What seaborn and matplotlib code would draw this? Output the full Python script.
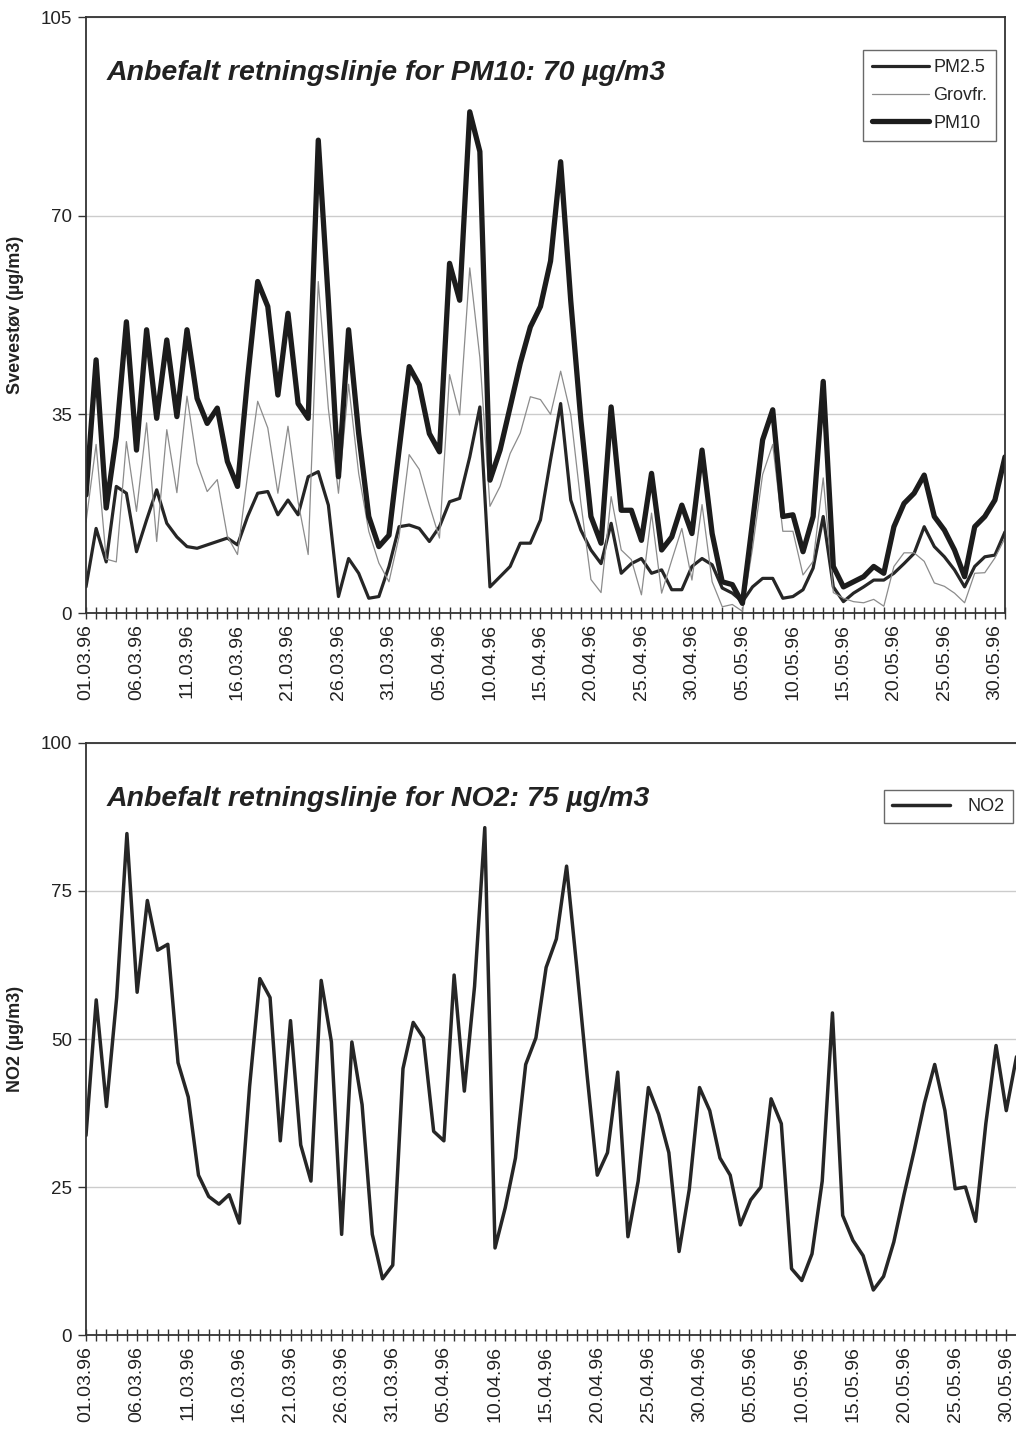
import matplotlib
matplotlib.use("Agg")
import matplotlib.pyplot as plt
import seaborn as sns
import numpy as np
import pandas as pd
from matplotlib.ticker import FixedLocator, MultipleLocator

# ---------------- data ----------------
tick_labels = ["01.03.96", "06.03.96", "11.03.96", "16.03.96", "21.03.96", "26.03.96",
               "31.03.96", "05.04.96", "10.04.96", "15.04.96", "20.04.96", "25.04.96",
               "30.04.96", "05.05.96", "10.05.96", "15.05.96", "20.05.96", "25.05.96",
               "30.05.96"]

pm10 = [20.8, 44.6, 18.5, 31.0, 51.3, 28.7, 49.9, 34.3, 48.1, 34.6,
        49.9, 37.8, 33.4, 36.1, 26.7, 22.3, 41.3, 58.4, 54.0, 38.4,
        52.8, 36.9, 34.3, 83.3, 55.0, 24.0, 49.9, 31.6, 17.0, 11.7,
        13.7, 28.7, 43.4, 40.2, 31.6, 28.4, 61.6, 55.1, 88.3, 81.3,
        23.4, 28.7, 36.3, 44.0, 50.4, 54.0, 62.0, 79.5, 55.0, 34.0,
        17.0, 12.3, 36.3, 18.1, 18.1, 12.8, 24.6, 11.1, 13.4, 19.0,
        14.0, 28.7, 14.0, 5.5, 5.0, 1.7, 16.0, 30.5, 35.8, 17.0,
        17.3, 10.8, 17.0, 40.8, 8.2, 4.6, 5.5, 6.4, 8.2, 7.0,
        15.2, 19.3, 21.1, 24.3, 17.0, 14.6, 11.1, 6.4, 15.2, 17.0,
        19.9, 27.5]

pm25 = [4.6, 14.9, 9.0, 22.3, 21.1, 10.8, 16.4, 21.7, 15.8, 13.4,
        11.7, 11.4, 12.0, 12.6, 13.2, 12.0, 17.0, 21.1, 21.4, 17.3,
        19.9, 17.3, 24.0, 24.9, 19.0, 2.9, 9.6, 7.0, 2.6, 2.9,
        8.2, 15.2, 15.5, 14.9, 12.6, 15.2, 19.6, 20.2, 27.5, 36.3,
        4.6, 6.4, 8.2, 12.3, 12.3, 16.4, 27.0, 36.9, 19.9, 14.6,
        11.1, 8.7, 15.8, 7.0, 8.7, 9.6, 7.0, 7.6, 4.1, 4.1,
        8.2, 9.6, 8.5, 4.4, 3.5, 2.0, 4.6, 6.1, 6.1, 2.6,
        2.9, 4.1, 7.9, 17.0, 4.6, 2.0, 3.5, 4.6, 5.8, 5.8,
        7.0, 8.7, 10.5, 15.2, 11.7, 9.9, 7.6, 4.6, 8.2, 9.9,
        10.2, 14.3]

grovfr = [16.0, 29.7, 9.5, 9.0, 30.2, 17.9, 33.5, 12.6, 32.3, 21.2,
          38.2, 26.4, 21.4, 23.5, 13.5, 10.3, 24.3, 37.3, 32.6, 21.1,
          32.9, 19.6, 10.3, 58.4, 36.0, 21.1, 40.3, 24.6, 14.4, 8.8,
          5.5, 13.5, 27.9, 25.3, 19.0, 13.2, 42.0, 34.9, 60.8, 45.0,
          18.8, 22.3, 28.1, 31.7, 38.1, 37.6, 35.0, 42.6, 35.0, 19.4,
          5.9, 3.6, 20.5, 11.1, 9.4, 3.2, 17.6, 3.5, 9.3, 14.9,
          5.8, 19.1, 5.5, 1.1, 1.5, 0.3, 11.4, 24.4, 29.7, 14.4,
          14.4, 6.7, 9.1, 23.8, 3.6, 2.6, 2.0, 1.8, 2.4, 1.2,
          8.2, 10.6, 10.6, 9.1, 5.3, 4.7, 3.5, 1.8, 7.0, 7.1,
          9.7, 13.2]

no2 = [33.7, 56.6, 38.6, 57.0, 84.7, 57.9, 73.4, 65.0, 66.0, 46.0,
       40.2, 27.0, 23.4, 22.1, 23.7, 18.9, 42.0, 60.2, 57.0, 32.8,
       53.1, 32.1, 26.0, 59.9, 49.5, 17.0, 49.5, 38.9, 17.0, 9.5,
       11.8, 45.0, 52.8, 50.2, 34.4, 32.8, 60.8, 41.2, 58.9, 85.7,
       14.7, 21.5, 29.9, 45.7, 50.2, 62.1, 66.9, 79.2, 62.0, 44.0,
       27.0, 30.8, 44.4, 16.6, 26.0, 41.8, 37.3, 30.8, 14.1, 24.6,
       41.8, 37.9, 29.9, 27.0, 18.6, 22.8, 25.0, 39.9, 35.7, 11.2,
       9.2, 13.7, 26.0, 54.4, 20.2, 16.0, 13.4, 7.6, 9.9, 15.7,
       23.7, 31.2, 39.2, 45.7, 37.9, 24.7, 25.0, 19.2, 35.7, 48.9,
       37.9, 47.0]

top_title = "Anbefalt retningslinje for PM10: 70 µg/m3"
bot_title = "Anbefalt retningslinje for NO2: 75 µg/m3"

# ---------------- style ----------------
sns.set_theme(style="white")
plt.rcParams["font.family"] = ["Liberation Sans", "DejaVu Sans"]

W, H = 1016, 1432
fig = plt.figure(figsize=(W / 100, H / 100), dpi=100)
fig.patch.set_facecolor("white")

def fx(px):
    return px / W

def fy(py):
    return 1 - py / H

ax1 = fig.add_axes([fx(86), fy(613), fx(1005 - 86), (613 - 17) / H])
ax2 = fig.add_axes([fx(86), fy(1335), fx(1016.5 - 86), (1335 - 743) / H])

days = np.arange(len(pm10))
df_top = pd.DataFrame({"day": days, "PM2.5": pm25, "Grovfr.": grovfr, "PM10": pm10})
df_no2 = pd.DataFrame({"day": np.arange(len(no2)), "NO2": no2})

dark = "#222222"
sns.lineplot(data=df_top, x="day", y="PM2.5", ax=ax1, color="#262626", linewidth=2.3, label="PM2.5")
sns.lineplot(data=df_top, x="day", y="Grovfr.", ax=ax1, color="#8c8c8c", linewidth=0.9, label="Grovfr.")
sns.lineplot(data=df_top, x="day", y="PM10", ax=ax1, color="#1c1c1c", linewidth=3.8, label="PM10")

sns.lineplot(data=df_no2, x="day", y="NO2", ax=ax2, color="#262626", linewidth=2.5, label="NO2")

label_pos = np.arange(0, len(tick_labels) * 5, 5)

def style_axis(ax, ymax, yticks, ylabel, title):
    ax.set_xlim(0, len(pm10) - 1)
    ax.set_ylim(0, ymax)
    ax.set_yticks(yticks)
    ax.set_yticklabels([str(t) for t in yticks], fontsize=13.5, color=dark)
    ax.xaxis.set_major_locator(FixedLocator(label_pos))
    ax.set_xticklabels(tick_labels, rotation=90, fontsize=14, color=dark)
    ax.xaxis.set_minor_locator(MultipleLocator(1))
    ax.tick_params(axis="x", which="both", direction="inout", length=8, width=1.0,
                   color="#333333", pad=4, bottom=True)
    ax.tick_params(axis="y", which="major", direction="out", length=6, width=1.0,
                   color="#333333", pad=4, left=True)
    ax.set_xlabel("")
    ax.set_ylabel(ylabel, fontsize=13, fontweight="bold", color=dark, labelpad=12)
    ax.yaxis.grid(True, color="#cccccc", linewidth=1.0)
    ax.xaxis.grid(False)
    ax.set_axisbelow(True)
    for s in ax.spines.values():
        s.set_color("#333333")
        s.set_linewidth(1.3)
    ax.text(0.022, 0.906 if ymax == 105 else 0.905, title, transform=ax.transAxes,
            fontsize=20.5, fontweight="bold", fontstyle="italic", color=dark,
            ha="left", va="center")

style_axis(ax1, 105, [0, 35, 70, 105], "Svevestøv (µg/m3)", top_title)
style_axis(ax2, 100, [0, 25, 50, 75, 100], "NO2 (µg/m3)", bot_title)
ax2.set_xlim(0, len(no2) - 1)
ax2.spines["right"].set_visible(False)

leg1 = ax1.legend(loc="upper right", bbox_to_anchor=(fx(996), fy(50)),
                  bbox_transform=fig.transFigure, frameon=True, fancybox=False,
                  fontsize=13, handlelength=3.2, handletextpad=0.2,
                  borderpad=0.5, labelspacing=0.6, borderaxespad=0)
leg1.get_frame().set_edgecolor("#444444")
leg1.get_frame().set_linewidth(1.0)

leg2 = ax2.legend(loc="upper right", bbox_to_anchor=(fx(1013), fy(790)),
                  bbox_transform=fig.transFigure, frameon=True, fancybox=False,
                  fontsize=13, handlelength=3.2, handletextpad=1.0,
                  borderpad=0.45, borderaxespad=0)
leg2.get_frame().set_edgecolor("#444444")
leg2.get_frame().set_linewidth(1.0)

fig.savefig("out.png", dpi=100, facecolor="white")
